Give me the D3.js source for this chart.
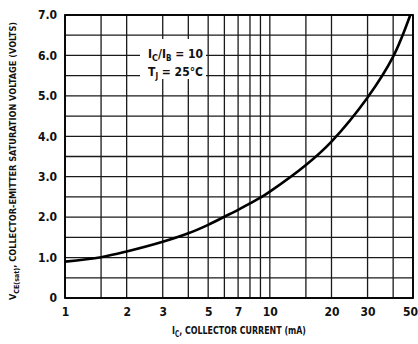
<!DOCTYPE html>
<html>
<head>
<meta charset="utf-8">
<script src="https://cdn.jsdelivr.net/npm/d3@7"></script>
<style>
  html, body { margin: 0; padding: 0; background: #fff; }
  svg { display: block; }
  text { font-family: "DejaVu Sans Condensed", "DejaVu Sans", sans-serif; font-stretch: condensed; font-weight: bold; fill: #111; }
</style>
</head>
<body>
<div id="chart"></div>
<script>
// ---- data ----
const currentMA = [1, 1.5, 2, 3, 4, 5, 6, 7, 8, 9, 10, 15, 20, 30, 40, 48.5];
const vceSat    = [0.90, 1.01, 1.15, 1.39, 1.60, 1.81, 2.01, 2.18, 2.34, 2.48, 2.63, 3.29, 3.87, 4.96, 5.97, 7.0];

const xTickValues = [1, 2, 3, 5, 7, 10, 20, 30, 50];
const xTickLabels = ["1", "2", "3", "5", "7", "10", "20", "30", "50"];
const xGridValues = [1, 1.5, 2, 3, 4, 5, 6, 7, 8, 9, 10, 15, 20, 30, 40, 50];
const yTickValues = [0, 1, 2, 3, 4, 5, 6, 7];
const yTickLabels = ["0", "1.0", "2.0", "3.0", "4.0", "5.0", "6.0", "7.0"];
const yGridValues = [0, 0.5, 1, 1.5, 2, 2.5, 3, 3.5, 4, 4.5, 5, 5.5, 6, 6.5, 7];

const W = 418, H = 344;
const m = { left: 65, right: 5, top: 15, bottom: 46 };
const iw = W - m.left - m.right, ih = H - m.top - m.bottom;

const svg = d3.select("#chart").append("svg").attr("width", W).attr("height", H);
const g = svg.append("g").attr("transform", `translate(${m.left},${m.top})`);

const x = d3.scaleLog().domain([1, 50]).range([0, iw]);
const y = d3.scaleLinear().domain([0, 7]).range([ih, 0]);

// grid
g.append("g").selectAll("line").data(xGridValues).join("line")
  .attr("x1", d => x(d)).attr("x2", d => x(d)).attr("y1", 0).attr("y2", ih)
  .attr("stroke", "#1a1a1a").attr("stroke-width", 1.3);
g.append("g").selectAll("line").data(yGridValues).join("line")
  .attr("x1", 0).attr("x2", iw).attr("y1", d => y(d)).attr("y2", d => y(d))
  .attr("stroke", "#1a1a1a").attr("stroke-width", 1.3);

// border
g.append("rect").attr("x", 0).attr("y", 0).attr("width", iw).attr("height", ih)
  .attr("fill", "none").attr("stroke", "#000").attr("stroke-width", 1.8);

// annotation box (white, covering grid)
g.append("rect").attr("x", 140 - m.left).attr("y", 39 - m.top)
  .attr("width", 66).attr("height", 40).attr("fill", "#fff");

const ann = g.append("g").style("font-size", "12px");
const t1 = ann.append("text").attr("x", 148 - m.left).attr("y", 58 - m.top);
t1.append("tspan").text("I");
t1.append("tspan").attr("dy", 3).style("font-size", "9px").text("C");
t1.append("tspan").attr("dy", -3).text("/I");
t1.append("tspan").attr("dy", 3).style("font-size", "8px").text("B");
t1.append("tspan").attr("dy", -3).text(" = 10");
const t2 = ann.append("text").attr("x", 148 - m.left).attr("y", 76 - m.top);
t2.append("tspan").text("T");
t2.append("tspan").attr("dy", 3).style("font-size", "8px").text("J");
t2.append("tspan").attr("dy", -3).text(" = 25°C");

// curve
const line = d3.line().x((d, i) => x(currentMA[i])).y((d) => y(d)).curve(d3.curveCatmullRom.alpha(0.5));
g.append("path").datum(vceSat).attr("d", line)
  .attr("fill", "none").attr("stroke", "#000").attr("stroke-width", 2.6);

// axes (labels only)
const xAxis = d3.axisBottom(x).tickValues(xTickValues)
  .tickFormat((d, i) => xTickLabels[i]).tickSize(0).tickPadding(9);
const gx = g.append("g").attr("transform", `translate(0,${ih})`).call(xAxis);
gx.select(".domain").remove();
gx.selectAll("text").style("font-size", "12px").style("font-family", null).attr("fill", "#111");
gx.selectAll(".tick").filter(d => d === 50).select("text").attr("text-anchor", "end").attr("x", m.right - 0.5);

const yAxis = d3.axisLeft(y).tickValues(yTickValues)
  .tickFormat((d, i) => yTickLabels[i]).tickSize(0).tickPadding(8);
const gy = g.append("g").call(yAxis);
gy.select(".domain").remove();
gy.selectAll("text").style("font-size", "12px").style("font-family", null).attr("fill", "#111");

// axis titles
const xt = svg.append("text").attr("x", m.left + iw / 2).attr("y", 334)
  .attr("text-anchor", "middle")
  .attr("textLength", 134).attr("lengthAdjust", "spacingAndGlyphs")
  .style("font-size", "11px");
xt.append("tspan").text("I");
xt.append("tspan").attr("dy", 3).style("font-size", "8px").text("C");
xt.append("tspan").attr("dy", -3).text(", COLLECTOR CURRENT (mA)");

const yt = svg.append("text").attr("transform", `translate(16,161) rotate(-90)`)
  .attr("text-anchor", "middle")
  .attr("textLength", 278).attr("lengthAdjust", "spacingAndGlyphs")
  .style("font-size", "9px");
yt.append("tspan").text("V");
yt.append("tspan").attr("dy", 3).style("font-size", "7px").text("CE(sat)");
yt.append("tspan").attr("dy", -3).text(", COLLECTOR-EMITTER SATURATION VOLTAGE (VOLTS)");
</script>
</body>
</html>
